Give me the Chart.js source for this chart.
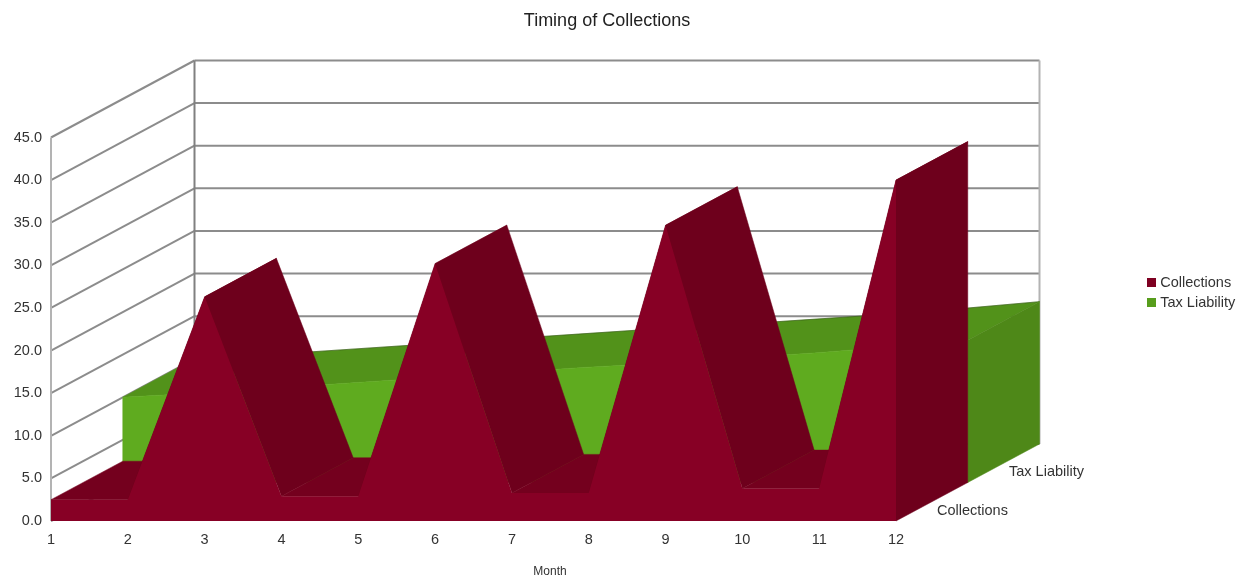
<!DOCTYPE html>
<html>
<head>
<meta charset="utf-8">
<title>Timing of Collections</title>
<style>
  html, body { margin: 0; padding: 0; background: #fff; }
  canvas { display: block; }
</style>
</head>
<body>
<canvas id="chartTiming" width="1249" height="577"></canvas>
<script src="https://cdn.jsdelivr.net/npm/chart.js@4/dist/chart.umd.js"></script>
<script>
// Data
const months = ['1', '2', '3', '4', '5', '6', '7', '8', '9', '10', '11', '12'];
const collections = [2.5, 2.5, 26.3, 2.9, 2.9, 30.2, 3.3, 3.3, 34.7, 3.8, 3.8, 40.0];
const taxLiability = [10.0, 10.5, 11.1, 11.7, 12.3, 12.9, 13.5, 14.0, 14.6, 15.2, 15.9, 16.7];
const seriesNames = ['Collections', 'Tax Liability'];
const yTickLabels = ['0.0', '5.0', '10.0', '15.0', '20.0', '25.0', '30.0', '35.0', '40.0', '45.0'];

// Look of the 3D box
const FONT = '"Liberation Sans", Arial, sans-serif';
const TEXT = '#333333';
const DEPTH_X = 143.5;
const DEPTH_Y = -77;
const legendColors = ['#7e0021', '#579d1c'];
const redShade = { front: '#870025', top: '#6e001c', flat: '#74001e', side: '#6e001c' };
const greenShade = { front: '#5fab1f', top: '#52921a', flat: '#52921a', side: '#4e8818' };

function line(ctx, x1, y1, x2, y2, color) {
    ctx.strokeStyle = color;
    ctx.beginPath();
    ctx.moveTo(x1, y1);
    ctx.lineTo(x2, y2);
    ctx.stroke();
}

function poly(ctx, pts, color) {
    ctx.fillStyle = color;
    ctx.strokeStyle = color;
    ctx.lineWidth = 0.5;
    ctx.beginPath();
    pts.forEach((p, i) => i ? ctx.lineTo(p[0], p[1]) : ctx.moveTo(p[0], p[1]));
    ctx.closePath();
    ctx.fill();
    ctx.stroke();
}

// Walls: front edge, back wall and the grid running between them
function drawWalls(chart) {
    const { ctx, chartArea, scales } = chart;
    const backLeft = chartArea.left + DEPTH_X;
    const backRight = chartArea.right + DEPTH_X;
    ctx.lineWidth = 2;
    scales.y.ticks.forEach(tick => {
        const y = scales.y.getPixelForValue(tick.value);
        line(ctx, chartArea.left, y, backLeft, y + DEPTH_Y, '#8c8c8c');
        line(ctx, backLeft, y + DEPTH_Y, backRight, y + DEPTH_Y, '#8c8c8c');
    });
    line(ctx, chartArea.left, chartArea.top, chartArea.left, chartArea.bottom, '#b3b3b3');
    line(ctx, backLeft, chartArea.top + DEPTH_Y, backLeft, chartArea.bottom + DEPTH_Y, '#808080');
    line(ctx, backRight, chartArea.top + DEPTH_Y, backRight, chartArea.bottom + DEPTH_Y, '#b3b3b3');
}

// Top faces and end cap of one series, row is 0 for the front slab, 1 for the back one
function drawSlab(chart, datasetIndex, row, shade, withFront) {
    const { ctx, chartArea } = chart;
    const dx = DEPTH_X / 2;
    const dy = DEPTH_Y / 2;
    const ox = dx * row;
    const oy = dy * row;
    const base = chartArea.bottom + oy;
    const points = chart.getDatasetMeta(datasetIndex).data.map(p => [p.x + ox, p.y + oy]);
    const back = p => [p[0] + dx, p[1] + dy];
    const end = points[points.length - 1];

    if (withFront) {
        // gentle slope, one ribbon with a thin dark rim along the far edge
        poly(ctx, [...points, ...points.map(back).reverse()], shade.top);
        ctx.lineWidth = 0.8;
        ctx.strokeStyle = 'rgba(40, 60, 20, 0.55)';
        ctx.beginPath();
        points.map(back).forEach((p, i) => i ? ctx.lineTo(p[0], p[1]) : ctx.moveTo(p[0], p[1]));
        ctx.stroke();
    } else {
        for (let i = 0; i < points.length - 1; i++) {
            const a = points[i];
            const b = points[i + 1];
            poly(ctx, [a, b, back(b), back(a)], a[1] === b[1] ? shade.flat : shade.top);
        }
    }
    poly(ctx, [end, back(end), [end[0] + dx, base + dy], [end[0], base]], shade.side);

    if (withFront) {
        poly(ctx, [[points[0][0], base], ...points, [end[0], base]], shade.front);
    }
}

// Legend swatch as a small canvas, so the gap to the text can follow the reference
function swatch(color) {
    const c = document.createElement('canvas');
    c.width = 9;
    c.height = 9;
    const g = c.getContext('2d');
    g.fillStyle = color;
    g.fillRect(0, 0, 9, 9);
    return c;
}

const box3d = {
    id: 'box3d',
    afterLayout(chart) {
        // the title and legend sit off the plot's centre in the reference
        chart.titleBlock.left = 0;
        chart.titleBlock.right = 1214;
        const legend = chart.legend;
        legend.left = 1144.5;
        legend.right = 1247;
        legend.top = 269.75;
        legend.bottom = 340;
        legend.adjustHitBoxes();
    },
    beforeDatasetsDraw(chart) {
        drawWalls(chart);
        drawSlab(chart, 1, 1, greenShade, true);
        drawSlab(chart, 0, 0, redShade, false); // front comes from the dataset's own fill
    },
    afterDatasetsDraw(chart) {
        const { ctx, chartArea } = chart;
        ctx.save();
        ctx.fillStyle = TEXT;
        ctx.textBaseline = 'middle';
        ctx.textAlign = 'left';
        ctx.font = '14.5px ' + FONT;
        ctx.fillText(seriesNames[0], chartArea.right + 41, chartArea.bottom - 10);
        ctx.fillText(seriesNames[1], chartArea.right + 113, chartArea.bottom - 49);
        ctx.textAlign = 'center';
        ctx.font = '12px ' + FONT;
        ctx.fillText('Month', 550, chartArea.bottom + 51);
        ctx.restore();
    }
};

new Chart(document.getElementById('chartTiming').getContext('2d'), {
    type: 'line',
    data: {
        labels: months,
        datasets: [
            {
                label: seriesNames[0],
                data: collections,
                backgroundColor: redShade.front,
                fill: 'origin',
                borderWidth: 0,
                pointRadius: 0,
                tension: 0
            },
            {
                label: seriesNames[1],
                data: taxLiability,
                backgroundColor: greenShade.front,
                showLine: false,
                fill: false,
                pointRadius: 0
            }
        ]
    },
    options: {
        responsive: false,
        animation: false,
        devicePixelRatio: 1,
        layout: { padding: { left: 0, right: 353, top: 0, bottom: 0 } },
        plugins: {
            title: {
                display: true,
                text: 'Timing of Collections',
                color: '#222222',
                font: { family: FONT, size: 18, weight: 'normal' },
                padding: { top: 10.2, bottom: 105.7 }
            },
            legend: {
                position: 'chartArea',
                align: 'start',
                labels: {
                    color: TEXT,
                    font: { family: FONT, size: 14.5 },
                    usePointStyle: true,
                    boxHeight: 9,
                    pointStyleWidth: 3,
                    padding: 5.5,
                    generateLabels: chart => chart.data.datasets.map((ds, i) => ({
                        text: ds.label,
                        fillStyle: legendColors[i],
                        strokeStyle: legendColors[i],
                        pointStyle: swatch(legendColors[i]),
                        lineWidth: 0,
                        fontColor: TEXT,
                        datasetIndex: i
                    }))
                }
            },
            tooltip: { enabled: false }
        },
        scales: {
            x: {
                offset: false,
                grid: { display: false },
                border: { display: false },
                ticks: {
                    color: TEXT,
                    font: { family: FONT, size: 14.5 },
                    padding: 2,
                    autoSkip: false,
                    maxRotation: 0
                },
                afterFit: s => { s.height = 56; }
            },
            y: {
                min: 0,
                max: 45,
                grid: { display: false },
                border: { display: false },
                ticks: {
                    stepSize: 5,
                    color: TEXT,
                    font: { family: FONT, size: 14.5 },
                    padding: 1,
                    callback: (value, i) => yTickLabels[i]
                },
                afterFit: s => { s.width = 51; }
            }
        }
    },
    plugins: [box3d]
});
</script>
</body>
</html>
